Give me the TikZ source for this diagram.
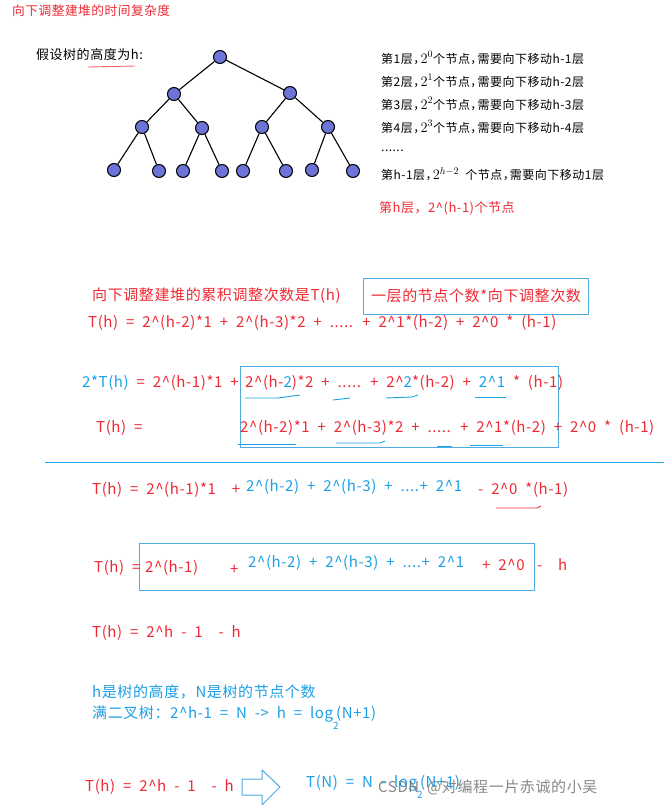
\documentclass[tikz,border=0pt]{standalone}
\usepackage{fontspec}
\setmainfont{Noto Sans CJK SC}[WordSpace=2, LetterSpace=4]
\definecolor{hred}{RGB}{238,42,52}
\definecolor{hblue}{RGB}{28,160,230}
\definecolor{boxblue}{RGB}{80,172,225}
\definecolor{nodefill}{RGB}{108,116,216}
\newcommand\crt{\textasciicircum}
\newcommand\cma{，\kern-0.4em}
\newcommand\pw[1]{{\fontsize{14}{15}\selectfont$2^{#1}$}}
\tikzset{
  vtx/.style={circle, draw=black, fill=nodefill, line width=1pt, minimum size=13pt, inner sep=0pt},
  edge/.style={line width=1.1pt},
  txt/.style={anchor=west, inner sep=0pt, font=\fontsize{15}{17}\selectfont},
  small/.style={anchor=west, inner sep=0pt, font=\fontsize{12}{15}\selectfont},
  scrawl/.style={line width=0.9pt},
  frame/.style={draw=boxblue, line width=1pt}
}
\begin{document}
\begin{tikzpicture}[x=1pt,y=-1pt]
\useasboundingbox[fill=white] (0,0) rectangle (664,805);

% title and tree
\node[small, hred, font=\fontsize{12.7}{15}\selectfont] (title) at (12,11) {向下调整建堆的时间复杂度};
\node[small, font=\fontsize{13}{15}\selectfont] (height) at (36,55) {假设树的高度为h:};
\draw[scrawl, hred!70] (88,67) -- (135,66);

\node[vtx] (r) at (220,57) {};
\node[vtx] (a1) at (174,94) {};
\node[vtx] (a2) at (290,93) {};
\node[vtx] (b1) at (142,127) {};
\node[vtx] (b2) at (202,128) {};
\node[vtx] (b3) at (262,127) {};
\node[vtx] (b4) at (328,127) {};
\node[vtx] (c1) at (114,170) {};
\node[vtx] (c2) at (159,171) {};
\node[vtx] (c3) at (183,171) {};
\node[vtx] (c4) at (222,171) {};
\node[vtx] (c5) at (243,171) {};
\node[vtx] (c6) at (286,171) {};
\node[vtx] (c7) at (312,170) {};
\node[vtx] (c8) at (353,171) {};
\foreach \p/\q in {r/a1,r/a2,a1/b1,a1/b2,a2/b3,a2/b4,b1/c1,b1/c2,b2/c3,b2/c4,b3/c5,b3/c6,b4/c7,b4/c8}
  \draw[edge] (\p) -- (\q);

% levels
\node[small] (l1) at (381,58) {第1层\cma \pw{0}个节点\cma 需要向下移动h-1层};
\node[small] (l2) at (381,81) {第2层\cma \pw{1}个节点\cma 需要向下移动h-2层};
\node[small] (l3) at (381,104) {第3层\cma \pw{2}个节点\cma 需要向下移动h-3层};
\node[small] (l4) at (381,127) {第4层\cma \pw{3}个节点\cma 需要向下移动h-4层};
\node[small] (ldots) at (381,151) {......};
\node[small] (lh1) at (381,174) {第h-1层\cma \pw{h-2} 个节点\cma 需要向下移动1层};
\node[small, hred, font=\fontsize{13}{15}\selectfont] (lh) at (379,208) {第h层，2\crt(h-1)个节点};

% sum
\node[txt, hred] (sumtitle) at (92,296) {向下调整建堆的累积调整次数是T(h)};
\node[frame, text=hred, font=\fontsize{15}{17}\selectfont, minimum width=225pt, minimum height=36pt, inner sep=0pt] (note) at (476,296) {一层的节点个数*向下调整次数};
\node[txt, hred] (sum) at (88,323) {T(h) = 2\crt(h-2)*1 + 2\crt(h-3)*2 + ..... + 2\crt1*(h-2) + 2\crt0 * (h-1)};

% shifted sums
\draw[frame] (240,366) rectangle (558,447);
\node[txt, hred] (dbl) at (82,383) {\textcolor{hblue}{2*T(h)} = 2\crt(h-1)*1 +};
\node[txt, hred] (dblr) at (245,383) {2\crt(h-\textcolor{hblue}{2})*2 + ..... + 2\crt\textcolor{hblue}{2}*(h-2) + \textcolor{hblue}{2\crt1} * (h-1)};
\node[txt, hred] (sgl) at (96,428) {T(h) =};
\node[txt, hred] (sglr) at (240,428) {2\crt(h-2)*1 + 2\crt(h-3)*2 + ..... + 2\crt1*(h-2) + 2\crt0 * (h-1)};
\draw[scrawl, hblue] (245,398) -- (278,398) -- (300,395);
\draw[scrawl, hblue] (333,400) -- (350,398);
\draw[scrawl, hblue] (386,398) -- (412,397) -- (418,395);
\draw[scrawl, hblue] (475,397) -- (506,397);
\draw[scrawl, hblue] (238,444) -- (296,444);
\draw[scrawl, hblue] (336,443) -- (380,443) -- (385,441);
\draw[scrawl, hblue] (437,446) -- (452,446);
\draw[scrawl, hblue] (470,445) -- (503,445);
\draw[scrawl, hblue] (45,462) -- (664,462);

% difference
\node[txt, hred] (diff) at (92,490) {T(h) = 2\crt(h-1)*1\ \ +};
\node[txt, hblue] (diffb) at (246,487) {2\crt(h-2) + 2\crt(h-3) + ....+ 2\crt1};
\node[txt, hred] (diffr) at (478,490) {- 2\crt0 *(h-1)};
\draw[scrawl, hred] (496,508) -- (537,508) -- (541,506);

\draw[frame] (139,543) rectangle (534,590);
\node[txt, hred] (res) at (94,568) {T(h) =};
\node[txt, hred] (resa) at (145,568) {2\crt(h-1)};
\node[txt, hred] (resp) at (230,570) {+};
\node[txt, hblue] (resb) at (248,563) {2\crt(h-2) + 2\crt(h-3) + ....+ 2\crt1};
\node[txt, hred] (resc) at (482,565) {+ 2\crt0};
\node[txt, hred] (resh) at (537,565) {- \ h};

% closed form
\node[txt, hred] (closed) at (92,633) {T(h) = 2\crt h - 1\ \ - h};
\node[txt, hblue] (def) at (92,692) {h是树的高度，N是树的节点个数};
\node[txt, hblue] (full) at (92,718) {满二叉树：2\crt h-1 = N -> h = log\rlap{\raisebox{-0.75em}{\fontsize{10}{10}\selectfont 2}}\kern3pt(N+1)};

% result
\node[txt, hred] (last) at (85,787) {T(h) = 2\crt h - 1\ \ - h};
\draw[draw=boxblue, line width=1pt] (242,779) -- (262,779) -- (262,770) -- (280,787) -- (262,805) -- (262,795) -- (242,795) -- cycle;
\node[txt, hblue] (tn) at (306,787) {T(N) = N - log\rlap{\raisebox{-0.75em}{\fontsize{10}{10}\selectfont 2}}\kern3pt(N+1)};
\node[txt, black!55, text opacity=0.85] (wm) at (378,787) {CSDN @对编程一片赤诚的小吴};
\end{tikzpicture}
\end{document}
